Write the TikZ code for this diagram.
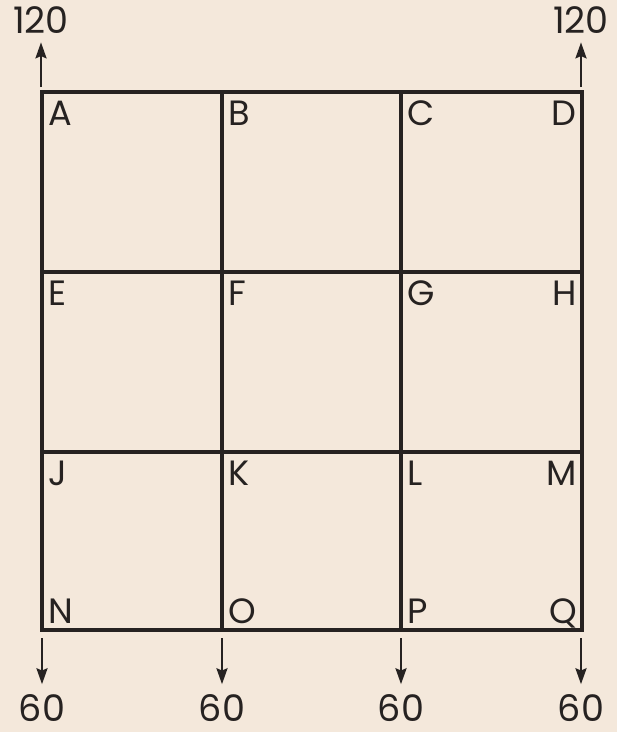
\documentclass[tikz,border=0pt]{standalone}
\usepackage{fontspec}
\setmainfont{Poppins}
\usetikzlibrary{arrows.meta, positioning}
\definecolor{paper}{RGB}{244,232,219}
\definecolor{ink}{RGB}{38,34,33}
\tikzset{
    cell/.style={
        font=\fontsize{25}{28}\selectfont,
        text=ink,
        inner sep=0pt
    },
    num/.style={
        font=\fontsize{26}{30}\selectfont,
        text=ink,
        inner sep=0pt
    },
    wall/.style={draw=ink, line width=2.3pt},
    flow/.style={-{Stealth[length=4mm, width=2.8mm, inset=0.6mm]}, draw=ink, line width=1.2pt}
}

\begin{document}
\begin{tikzpicture}[x=0.025cm, y=-0.025cm]

\fill[paper] (0,0) rectangle (617,732);
\useasboundingbox (0,0) rectangle (617,732);

% corners of the grid
\coordinate (nw) at (42,92);
\coordinate (se) at (582,630);

\draw[wall] (nw) rectangle (se);
\draw[wall] (222,92) -- (222,630);
\draw[wall] (401,92) -- (401,630);
\draw[wall] (42,272) -- (582,272);
\draw[wall] (42,452) -- (582,452);

% cell letters
\node[cell, anchor=base west] (A) at (48,125) {A};
\node[cell, anchor=base west] (B) at (228,125) {B};
\node[cell, anchor=base west] (C) at (407,125) {C};
\node[cell, anchor=base east] (D) at (577,125) {D};

\node[cell, anchor=base west] (E) at (48,305) {E};
\node[cell, anchor=base west] (F) at (228,305) {F};
\node[cell, anchor=base west] (G) at (407,305) {G};
\node[cell, anchor=base east] (H) at (577,305) {H};

\node[cell, anchor=base west] (J) at (48,485) {J};
\node[cell, anchor=base west] (K) at (228,485) {K};
\node[cell, anchor=base west] (L) at (407,485) {L};
\node[cell, anchor=base east] (M) at (577,485) {M};

\node[cell, anchor=base west] (N) at (48,623) {N};
\node[cell, anchor=base west] (O) at (228,623) {O};
\node[cell, anchor=base west] (P) at (407,623) {P};
\node[cell, anchor=base east] (Q) at (577,623) {Q};

% inflow and outflow
\node[num, anchor=south] (inW) at (41,34) {120};
\node[num, anchor=south] (inE) at (581,34) {120};
\node[num, anchor=north] (out1) at (42,694) {60};
\node[num, anchor=north] (out2) at (222,694) {60};
\node[num, anchor=north] (out3) at (401,694) {60};
\node[num, anchor=north] (out4) at (581,694) {60};

\coordinate (upW) at (41,87);
\coordinate (upE) at (581,87);
\coordinate (dn1) at (42,638);
\coordinate (dn2) at (222,638);
\coordinate (dn3) at (401,638);
\coordinate (dn4) at (581,638);

\draw[flow, shorten >=6pt] (upW) -- (inW.south);
\draw[flow, shorten >=6pt] (upE) -- (inE.south);
\draw[flow, shorten >=7pt] (dn1) -- (out1.north);
\draw[flow, shorten >=7pt] (dn2) -- (out2.north);
\draw[flow, shorten >=7pt] (dn3) -- (out3.north);
\draw[flow, shorten >=7pt] (dn4) -- (out4.north);

\end{tikzpicture}
\end{document}
